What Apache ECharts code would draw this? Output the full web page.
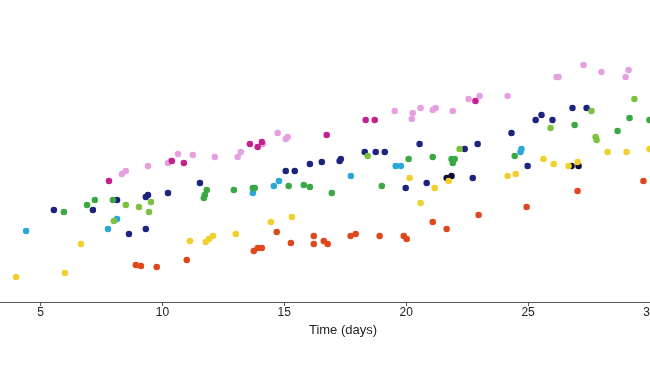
<!DOCTYPE html>
<html>
<head>
<meta charset="utf-8">
<script src="https://cdn.jsdelivr.net/npm/echarts@6/dist/echarts.min.js"></script>
<style>html,body{margin:0;padding:0;background:#fff}#c{width:650px;height:366px}</style>
</head>
<body>
<div id="c"></div>
<script>
var xTicks = [5, 10, 15, 20, 25, 30];
var xTitle = 'Time (days)';

var pinkPts = [[8.34,42.7],[8.50,43.7],[9.41,45.3],[10.23,46.3],[10.35,47.0],[10.64,49.3],[11.25,49.0],[12.15,48.3],[13.09,48.3],[13.22,50.0],[14.12,52.7],[14.73,56.3],[15.06,54.3],[15.14,55.0],[19.53,63.7],[20.23,61.0],[20.27,63.0],[20.59,64.7],[21.09,64.0],[21.21,64.7],[21.91,63.7],[22.56,67.7],[23.01,68.7],[24.16,68.7],[26.17,75.0],[26.25,75.0],[27.27,79.0],[28.01,76.7],[29.00,75.0],[29.12,77.3]];
var magentaPts = [[7.81,40.3],[10.39,47.0],[10.88,46.3],[13.59,52.7],[13.91,51.7],[14.08,53.3],[16.74,55.7],[18.34,60.7],[18.71,60.7],[22.84,67.0]];
var navyPts = [[5.55,30.7],[7.15,30.7],[8.14,34.0],[9.32,35.0],[9.41,35.7],[8.63,22.7],[9.32,24.3],[10.23,36.3],[11.54,39.7],[15.06,43.7],[15.43,43.7],[16.05,46.0],[16.54,46.7],[17.27,47.0],[17.32,47.7],[18.30,50.0],[18.75,50.0],[19.12,50.0],[19.98,38.0],[20.55,52.7],[20.84,39.7],[22.40,51.0],[22.93,52.7],[22.73,41.3],[24.32,56.3],[24.98,45.3],[25.31,60.7],[25.55,62.3],[26.00,60.7],[26.82,64.7],[27.40,64.7]];
var darkPts = [[21.66,41.3],[21.86,42.0],[26.78,45.3],[27.07,45.3]];
var cyanPts = [[4.41,23.7],[7.77,24.3],[8.14,27.7],[13.71,36.3],[14.57,38.7],[14.78,40.3],[17.73,42.0],[19.57,45.3],[19.78,45.3],[24.73,51.0],[24.69,50.0]];
var greenPts = [[5.96,30.0],[6.91,32.3],[7.23,34.0],[7.97,34.0],[11.82,37.3],[11.74,35.7],[11.70,34.7],[12.93,37.3],[13.71,38.0],[13.79,38.0],[15.18,38.7],[15.80,39.0],[16.05,38.3],[16.95,36.3],[19.00,38.7],[20.10,47.7],[21.09,48.3],[21.86,47.7],[21.99,47.7],[21.91,46.3],[24.45,48.7],[26.91,59.0],[28.67,57.0],[29.16,61.3],[29.98,60.7]];
var limePts = [[8.01,27.0],[8.50,32.3],[9.04,31.7],[9.53,33.3],[9.45,30.0],[18.42,48.7],[22.19,51.0],[25.92,58.0],[27.60,63.7],[27.77,55.0],[27.81,54.0],[29.36,67.7]];
var yellowPts = [[4.00,8.3],[6.00,9.7],[6.66,19.3],[11.13,20.3],[11.78,20.0],[11.91,21.0],[12.07,22.0],[13.01,22.7],[14.45,26.7],[15.31,28.3],[20.14,41.3],[20.59,33.0],[21.17,38.0],[21.74,40.3],[24.16,42.0],[24.49,42.7],[25.63,47.7],[26.05,46.0],[26.66,45.3],[27.03,46.7],[28.26,50.0],[29.04,50.0],[29.98,51.0]];
var orangePts = [[8.91,12.3],[9.12,12.0],[9.77,11.7],[11.00,14.0],[13.75,17.0],[13.91,18.0],[14.08,18.0],[14.69,23.3],[15.27,19.7],[16.21,22.0],[16.21,19.3],[16.62,20.3],[16.78,19.3],[17.72,22.0],[17.93,22.7],[18.91,22.0],[19.90,22.0],[20.02,21.0],[21.09,26.7],[21.66,24.3],[22.97,29.0],[24.94,31.7],[27.03,37.0],[29.73,40.3]];

var groups = [
  {name:'pink', data: pinkPts, color:'#e6a0e0'},
  {name:'magenta', data: magentaPts, color:'#c4218f'},
  {name:'navy', data: navyPts, color:'#1c2480'},
  {name:'dark', data: darkPts, color:'#0b0b33'},
  {name:'cyan', data: cyanPts, color:'#2aa8d8'},
  {name:'green', data: greenPts, color:'#3aa843'},
  {name:'lime', data: limePts, color:'#7cc23c'},
  {name:'yellow', data: yellowPts, color:'#f0d02c'},
  {name:'orange', data: orangePts, color:'#e0481c'}
];

var chart = echarts.init(document.getElementById('c'), null, {renderer:'canvas'});
chart.setOption({
  animation: false,
  backgroundColor: '#fff',
  grid: {left: 0, right: 0, top: 2, bottom: 64, containLabel: false, outerBoundsMode: 'none'},
  xAxis: {
    type: 'value', min: 3.34, max: 30,
    name: xTitle, nameLocation: 'middle', nameGap: 22,
    nameTextStyle: {fontFamily: 'Liberation Sans', fontSize: 13, color: '#222', padding: [0,0,0,36]},
    axisLine: {lineStyle: {color: '#555', width: 1.2}},
    axisTick: {show: true, length: 4, lineStyle: {color: '#555'}, customValues: xTicks},
    axisLabel: {fontFamily: 'Liberation Sans', fontSize: 12, color: '#222', margin: 5, customValues: xTicks, showMaxLabel: true, hideOverlap: false},
    splitLine: {show: false}
  },
  yAxis: {
    type: 'value', min: 0, max: 100, show: false
  },
  series: groups.map(function(g){
    return {
      type: 'scatter', name: g.name, data: g.data,
      symbol: 'circle', symbolSize: 6.5,
      itemStyle: {color: g.color, opacity: 1},
      clip: false
    };
  })
});
</script>
</body>
</html>
